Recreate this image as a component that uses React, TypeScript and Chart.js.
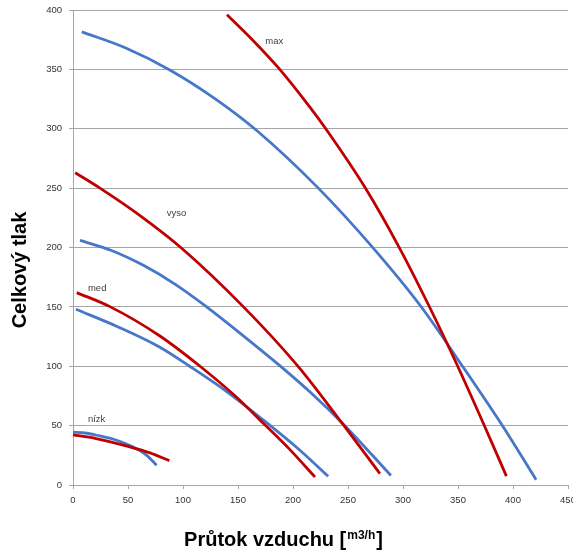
import React, { useEffect, useRef } from 'react';
import { Chart, registerables } from 'chart.js';

Chart.register(...registerables);

// Axis ranges / ticks
const xMin = 0;
const xMax = 450;
const xStep = 50;
const yMin = 0;
const yMax = 400;
const yStep = 50;

// Series: "max"
const maxRedX = [140, 163, 187, 215.5, 229, 265.5, 296, 323, 349, 373, 394];
const maxRedY = [396, 375, 351, 318, 301, 250.5, 201, 152, 101.5, 52, 7.5];
const maxBlueX = [8, 48, 88, 128, 167, 223, 272, 317, 353, 390, 421];
const maxBlueY = [381.6, 368, 349.5, 326, 298.5, 250, 200.5, 149.5, 101.5, 50.5, 4.5];

// Series: "vyso"
const vysoRedX = [2, 24.5, 60, 98, 155, 205, 245.5, 279];
const vysoRedY = [263, 250, 227.5, 200, 150, 99.5, 51, 9.6];
const vysoBlueX = [6.4, 35, 64, 93, 121.5, 155, 188, 217, 246, 289];
const vysoBlueY = [206, 197.5, 185, 169, 150, 125.5, 100.5, 77, 51, 8];

// Series: "med"
const medRedX = [3.4, 34, 79, 115.5, 148, 173, 197, 220];
const medRedY = [162, 150, 125.5, 100, 74.5, 52, 30, 6.7];
const medBlueX = [2.7, 40, 79, 106, 140, 176, 206, 232];
const medBlueY = [148, 133.5, 116, 100, 78.5, 52.5, 29.5, 7.3];

// Series: "nízk"
const nizkRedX = [0, 20, 50, 70, 87.6];
const nizkRedY = [42.2, 39.3, 32.5, 27, 20.5];
const nizkBlueX = [0, 10.9, 21.5, 39.7, 54.8, 67, 76];
const nizkBlueY = [44.5, 43.8, 41.9, 37.7, 32, 25, 16.6];

// Curve labels (anchored in data coordinates)
const curveLabelTexts = ['max', 'vyso', 'med', 'nízk'];
const curveLabelX = [183, 94, 22, 21.5];
const curveLabelY = [374, 229, 165.5, 55.5];

const yTitle = 'Celkový tlak';
const xTitleMain = 'Průtok vzduchu [';
const xTitleSup = 'm3/h';
const xTitleEnd = ']';

const RED = '#C00000';
const BLUE = '#4677C8';
const GRID = '#a6a6a6';
const FONT = '"Liberation Sans", Arial, sans-serif';

export default function App() {
  const ref = useRef<HTMLCanvasElement>(null);

  useEffect(() => {
    const canvas = ref.current;
    if (!canvas) return;

    const mk = (xs: number[], ys: number[]) => xs.map((x, i) => ({ x, y: ys[i] }));
    const ds = (label: string, xs: number[], ys: number[], color: string) => ({
      label,
      data: mk(xs, ys),
      borderColor: color,
      backgroundColor: color,
      borderWidth: 2.8,
      pointRadius: 0,
      pointHoverRadius: 0,
      showLine: true,
      fill: false,
      cubicInterpolationMode: 'monotone' as const,
    });

    const labelsPlugin = {
      id: 'curveLabels',
      afterDatasetsDraw(chart: any) {
        const { ctx, scales } = chart;
        ctx.save();
        ctx.font = `9.5px ${FONT}`;
        ctx.textAlign = 'center';
        ctx.textBaseline = 'middle';
        curveLabelTexts.forEach((t, i) => {
          const px = scales.x.getPixelForValue(curveLabelX[i]);
          const py = scales.y.getPixelForValue(curveLabelY[i]);
          const w = ctx.measureText(t).width;
          ctx.fillStyle = '#ffffff';
          ctx.fillRect(px - w / 2 - 1, py - 6, w + 2, 12);
          ctx.fillStyle = '#404040';
          ctx.fillText(t, px, py);
        });
        ctx.restore();
      },
    };

    const titlesPlugin = {
      id: 'axisTitles',
      afterDraw(chart: any) {
        const { ctx } = chart;
        ctx.save();
        ctx.fillStyle = '#000000';
        // Y title
        ctx.save();
        ctx.translate(26, 270);
        ctx.rotate(-Math.PI / 2);
        ctx.font = `bold 20px ${FONT}`;
        ctx.textAlign = 'center';
        ctx.textBaseline = 'alphabetic';
        ctx.fillText(yTitle, 0, 0);
        ctx.restore();
        // X title with superscript
        ctx.textAlign = 'left';
        ctx.textBaseline = 'alphabetic';
        const mainFont = `bold 20px ${FONT}`;
        const supFont = `bold 12px ${FONT}`;
        ctx.font = mainFont;
        const wMain = ctx.measureText(xTitleMain).width;
        const wEnd = ctx.measureText(xTitleEnd).width;
        ctx.font = supFont;
        const wSup = ctx.measureText(xTitleSup).width;
        const total = wMain + 1 + wSup + 1 + wEnd;
        let x = 283.5 - total / 2;
        const base = 545.5;
        ctx.font = mainFont;
        ctx.fillText(xTitleMain, x, base);
        x += wMain + 1;
        ctx.font = supFont;
        ctx.fillText(xTitleSup, x, base - 6.5);
        x += wSup + 1;
        ctx.font = mainFont;
        ctx.fillText(xTitleEnd, x, base);
        ctx.restore();
      },
    };

    const chart = new Chart(canvas, {
      type: 'scatter',
      data: {
        datasets: [
          ds('max', maxRedX, maxRedY, RED),
          ds('vyso', vysoRedX, vysoRedY, RED),
          ds('med', medRedX, medRedY, RED),
          ds('nízk', nizkRedX, nizkRedY, RED),
          ds('max 2', maxBlueX, maxBlueY, BLUE),
          ds('vyso 2', vysoBlueX, vysoBlueY, BLUE),
          ds('med 2', medBlueX, medBlueY, BLUE),
          ds('nízk 2', nizkBlueX, nizkBlueY, BLUE),
        ] as any,
      },
      options: {
        responsive: false,
        animation: false,
        devicePixelRatio: 1,
        layout: { padding: { top: 10, right: 5, left: 0, bottom: 0 } },
        plugins: {
          legend: { display: false },
          tooltip: { enabled: false },
          title: { display: false },
        },
        scales: {
          x: {
            type: 'linear',
            min: xMin,
            max: xMax,
            ticks: {
              stepSize: xStep,
              padding: 6,
              color: '#333333',
              font: { family: FONT, size: 9.5 },
              maxRotation: 0,
              autoSkip: false,
            },
            grid: {
              drawOnChartArea: false,
              drawTicks: true,
              tickLength: 4,
              color: GRID,
            },
            border: { color: GRID },
            afterFit(s: any) {
              s.height = 67;
              s.paddingLeft = 0;
              s.paddingRight = 0;
            },
          },
          y: {
            type: 'linear',
            min: yMin,
            max: yMax,
            ticks: {
              stepSize: yStep,
              padding: 7,
              color: '#333333',
              font: { family: FONT, size: 9.5 },
            },
            grid: {
              color: GRID,
              tickLength: 4,
            },
            border: { color: GRID },
            afterFit(s: any) {
              s.width = 73;
              s.paddingTop = 0;
              s.paddingBottom = 0;
            },
          },
        },
      } as any,
      plugins: [labelsPlugin, titlesPlugin],
    });

    return () => chart.destroy();
  }, []);

  return (
    <div style={{ position: 'absolute', left: 0, top: 0, width: 573, height: 552, background: '#ffffff' }}>
      <canvas ref={ref} width={573} height={552} style={{ display: 'block', width: 573, height: 552 }} />
    </div>
  );
}
